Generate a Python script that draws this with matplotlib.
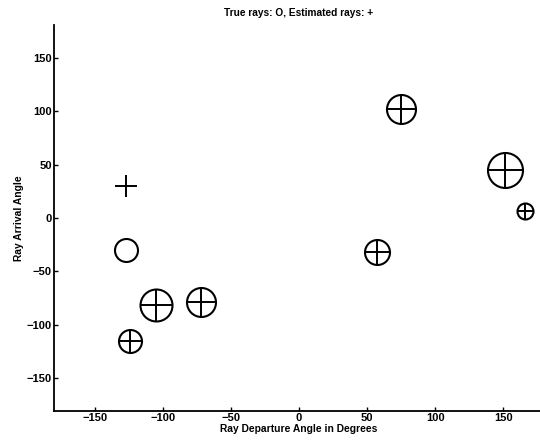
import matplotlib
matplotlib.use("Agg")
import matplotlib.pyplot as plt

# True rays (circles): departure angle, arrival angle, relative size (diameter in px)
true_dep = [-127, -105, -72, -124, 75, 151, 166, 57]
true_arr = [-30, -82, -79, -115, 102, 45, 6.5, -32]
true_size = [23, 32, 29, 23, 29, 35, 16, 25]

# Estimated rays (plus signs)
est_dep = [-127, -105, -72, -124, 75, 151, 166, 57]
est_arr = [30, -82, -79, -115, 102, 45, 6.5, -32]
est_size = [23, 32, 29, 23, 29, 35, 16, 25]

xticks = [-150, -100, -50, 0, 50, 100, 150]
yticks = [-150, -100, -50, 0, 50, 100, 150]

plt.rcParams['font.family'] = ['Liberation Sans', 'DejaVu Sans']

DPI = 100
fig = plt.figure(figsize=(5.40, 4.42), dpi=DPI)
ax = fig.add_axes([54/540, 31/442, 490/540, 386/442])

px2pt = 72.0 / DPI
for x, y, s in zip(true_dep, true_arr, true_size):
    ax.plot(x, y, marker='o', markersize=s * px2pt, markerfacecolor='none',
            markeredgecolor='black', markeredgewidth=1.5, linestyle='none')
for x, y, s in zip(est_dep, est_arr, est_size):
    ax.plot(x, y, marker='+', markersize=s * px2pt,
            markeredgecolor='black', markeredgewidth=1.4, linestyle='none')

def fmt(t):
    return str(t).replace('-', '\u2212')

ax.set_xlim(-180, 180)
ax.set_ylim(-181, 181)
ax.set_xticks(xticks)
ax.set_yticks(yticks)
ax.set_xticklabels([fmt(t) for t in xticks])
ax.set_yticklabels([fmt(t) for t in yticks])
ax.tick_params(direction='in', length=3, width=1, labelsize=8, pad=1.5)
for lab in ax.get_xticklabels() + ax.get_yticklabels():
    lab.set_fontweight('bold')

ax.spines['top'].set_visible(False)
ax.spines['right'].set_visible(False)
ax.spines['left'].set_linewidth(1.3)
ax.spines['bottom'].set_linewidth(1.3)

ax.set_xlabel('Ray Departure Angle in Degrees', fontsize=7.4, fontweight='bold', labelpad=0.5)
ax.set_ylabel('Ray Arrival Angle', fontsize=7.4, fontweight='bold', labelpad=2)
ax.text(0, 1.0 + 7/386, 'True rays: O, Estimated rays: +', transform=ax.get_xaxis_transform(),
        ha='center', va='bottom', fontsize=7.3, fontweight='bold')

fig.savefig('out.png', dpi=DPI)
